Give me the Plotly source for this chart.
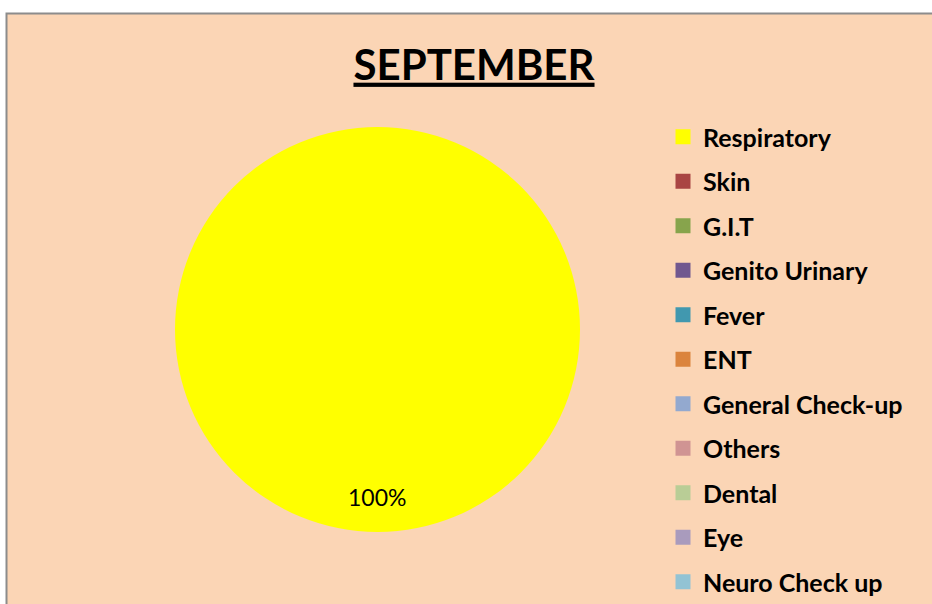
""" September pie chart. """

import plotly.graph_objects as go

W, H = 932, 604

categories = [
    "Respiratory",
    "Skin",
    "G.I.T",
    "Genito Urinary",
    "Fever",
    "ENT",
    "General Check-up",
    "Others",
    "Dental",
    "Eye",
    "Neuro Check up",
]
patients = [14, 0, 0, 0, 0, 0, 0, 0, 0, 0, 0]
colors = [
    "#FFFF00",
    "#A94543",
    "#87A44C",
    "#71588F",
    "#4198AF",
    "#DB843D",
    "#93A9CF",
    "#D09493",
    "#B9CD96",
    "#A99BBD",
    "#92C3D4",
]

BG = "#FBD5B5"
FONT = "Lato"

fig = go.Figure()

fig.add_trace(
    go.Pie(
        labels=categories,
        values=patients,
        marker=dict(colors=colors, line=dict(width=0)),
        sort=False,
        direction="clockwise",
        rotation=90,
        textinfo="none",
        showlegend=False,
        domain=dict(x=[175 / W, 580 / W], y=[1 - 532 / H, 1 - 127 / H]),
    )
)

# legend entries (zero slices don't show up in a pie legend reliably)
for name, col in zip(categories, colors):
    fig.add_trace(
        go.Scatter(
            x=[None],
            y=[None],
            mode="markers",
            name=name,
            legendgroup=name,
            marker=dict(symbol="square", size=15, color=col),
        )
    )

total = sum(patients)
share = patients[0] / total * 100
fig.add_annotation(
    text=f"{share:.0f}%",
    x=377 / W,
    y=1 - 497 / H,
    xref="paper",
    yref="paper",
    xanchor="center",
    yanchor="middle",
    showarrow=False,
    font=dict(family=FONT, size=23, color="#000000"),
)

# peach chart area with grey frame on top/left
fig.add_shape(
    type="rect",
    xref="paper",
    yref="paper",
    x0=6.5 / W,
    x1=1.02,
    y0=-0.02,
    y1=1 - 13.5 / H,
    fillcolor=BG,
    line=dict(color="#8C8C8C", width=2),
    layer="below",
)

fig.update_layout(
    width=W,
    height=H,
    margin=dict(l=0, r=0, t=0, b=0, autoexpand=False),
    paper_bgcolor="white",
    plot_bgcolor="rgba(0,0,0,0)",
    xaxis=dict(visible=False),
    yaxis=dict(visible=False),
    title=dict(
        text="<b><u>SEPTEMBER</u></b>",
        x=474 / W,
        xanchor="center",
        y=1 - 65 / H,
        yanchor="middle",
        font=dict(family=FONT, size=42, color="#000000"),
    ),
    legend=dict(
        x=663 / W,
        xanchor="left",
        y=1 - 114 / H,
        yanchor="top",
        bgcolor="rgba(0,0,0,0)",
        font=dict(family=FONT, size=25, color="#000000", weight="bold"),
        tracegroupgap=9,
        itemclick=False,
        itemdoubleclick=False,
    ),
)

# drop the default page margin so the figure sits at the window's corner
fig.write_html(
    "out.html",
    config={"displayModeBar": False},
    post_script="document.body.style.margin = '0';",
)
